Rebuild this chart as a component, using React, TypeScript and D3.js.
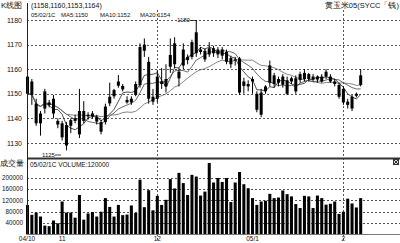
import React from "react";
import * as d3 from "d3";

const opens = [1157,1155,1146,1138,1144,1146.5,1148,1139,1138,1137.3,1137,1140,1133.5,1143,1141.5,1140.8,1140.7,1138.5,1138.5,1146.1,1149,1153.3,1153.2,1147.5,1146.5,1149.5,1153.5,1167.5,1163,1146.8,1148,1155,1153,1161,1162,1159,1161.5,1165,1165,1166.5,1168,1167.5,1166,1168.5,1166,1168,1167,1164.5,1163.5,1164.4,1153.2,1154,1155,1150,1141.5,1151,1154.5,1157.5,1154.5,1157,1155.5,1155,1156.3,1155.6,1158.5,1156,1157,1155.8,1157,1157,1157,1155,1153.6,1152,1146.8,1144,1149.2,1153.6];
const highs = [1158,1156,1148,1143,1152,1147.5,1149.5,1140,1139,1138.5,1140,1141.5,1152,1147,1142.5,1143,1141.5,1139.5,1146,1154.5,1152,1157.6,1154,1149,1149,1155,1170.5,1172.5,1165,1152,1159.5,1160.5,1162,1172.5,1173,1160.5,1170.5,1166,1172,1180,1169,1168.5,1171,1169.5,1169,1169,1168,1165.5,1165,1165,1156.5,1155.5,1157,1151,1152,1153.5,1163.5,1158.5,1157,1158,1157,1157,1157.5,1159,1160,1158.5,1158,1157.5,1158,1160,1158,1156,1154.5,1153,1148,1149.5,1150.5,1160];
const lows = [1148,1145.5,1137,1133,1142,1144.5,1140,1136,1131,1127,1134,1138,1132,1138,1139.5,1140,1137.5,1133.5,1137.5,1145,1148,1152.5,1151,1146,1145.5,1149,1152.5,1165,1146,1145.5,1146.5,1152,1150.5,1158.5,1160.5,1153,1160,1162,1164,1165,1166,1163,1165,1165,1164.5,1164,1162,1160.5,1161.5,1149.5,1150,1151,1150,1142.5,1140.5,1150,1153,1152.5,1153,1152.5,1149.5,1154,1150,1154.5,1155,1155,1155,1154.5,1154.5,1156,1154.5,1153,1148,1145.5,1144,1143,1148.5,1153];
const closes = [1150,1149.5,1138,1142,1151,1145.5,1142,1137.5,1132.3,1129,1139.3,1139,1143,1139,1140.8,1142,1138.7,1134.6,1144.8,1148.8,1151.5,1155,1151.8,1146.5,1148,1154,1169,1170,1148,1148.8,1157,1154,1156,1165.8,1170.5,1156.3,1168,1163.7,1171,1175,1167,1164,1168.5,1166.5,1168,1165.5,1163,1162,1164,1150.5,1155,1153,1156,1143.5,1150.5,1153,1161.5,1154,1156,1153.7,1150,1156.3,1151,1158,1156,1158,1155.8,1157,1155,1159,1155,1154,1148.8,1146.5,1145.5,1148.8,1150,1157.5];
const volumes = [104000,69000,77000,63000,31000,29000,49000,39000,116000,77000,77000,59000,139000,52000,74000,79000,63000,80000,128000,97000,63000,104000,68000,70000,102000,76000,193000,96000,156000,85000,136000,104000,122000,195000,162000,217000,181000,139000,210000,204000,137000,151000,252000,183000,199000,185000,199000,114000,183000,220000,177000,163000,128000,104000,116000,119000,143000,128000,130000,155000,142000,134000,107000,93000,136000,134000,93000,137000,128000,105000,108000,116000,72000,80000,126000,109000,95000,128000];

const priceTicks = [1180, 1170, 1160, 1150, 1140, 1130];
const volTicks = [200000, 160000, 120000, 80000, 40000];
const dateTickIdx = [0, 8, 30, 52, 73];
const dateTickText = ["04/10", "11", "12", "05/1", "2"];
const gridIdx = [30, 73];
const maPeriods = [5, 10, 20];
const headerItems = ["05/02/1C", "MA5:1150", "MA10:1152", "MA20:1154"];
const headerX = [31, 61, 100, 140];

const FONT = "'Liberation Sans', Arial, sans-serif";

export default function App() {
  const n = closes.length;
  const idx = d3.range(n);
  const xb = d3.scaleBand<number>().domain(idx).range([26, 362.2]).paddingInner(0.3).paddingOuter(0);
  const bw = xb.bandwidth();
  const cx = (i: number) => (xb(i) as number) + bw / 2;
  const y = d3.scaleLinear().domain([1130, 1180]).range([143, 20]);
  const yv = d3.scaleLinear().domain([0, 200000]).range([234.4, 177.7]);

  const ma = (p: number) =>
    closes.map((_, i) => d3.mean(closes.slice(Math.max(0, i - p + 1), i + 1)) as number);
  const line = d3.line<number>().x((_, i) => cx(i)).y((d) => y(d));
  const maColors = ["#222", "#444", "#666"];

  const dash = { stroke: "#555", strokeWidth: 1, strokeDasharray: "2,2", shapeRendering: "crispEdges" as const };

  return (
    <svg width={400} height={243} style={{ position: "absolute", left: 0, top: 0, background: "#fff" }} fontFamily={FONT}>
      <rect x={0} y={0} width={400} height={243} fill="#fff" />
      <text x={1} y={8} fontSize={8} fill="#111">K线图</text>
      <text x={31} y={8} fontSize={7} fill="#111">(1158,1160,1153,1164)</text>
      {headerItems.map((t, k) => (
        <text key={t} x={headerX[k]} y={17} fontSize={6} fill="#111">{t}</text>
      ))}
      <text x={399} y={8} fontSize={7.5} fill="#111" textAnchor="end">黄玉米05(SYCC「钱)</text>

      {priceTicks.map((t) => (
        <g key={t}>
          <line x1={27} x2={400} y1={Math.round(y(t)) + 0.5} y2={Math.round(y(t)) + 0.5} {...dash} />
          <text x={22} y={y(t) + 2.5} fontSize={7} textAnchor="end" fill="#111">{t}</text>
        </g>
      ))}
      {volTicks.map((t) => (
        <g key={t}>
          <line x1={27} x2={400} y1={Math.round(yv(t)) + 0.5} y2={Math.round(yv(t)) + 0.5} {...dash} />
          <text x={23} y={yv(t) + 2.3} fontSize={6.3} textAnchor="end" fill="#111">{t}</text>
        </g>
      ))}
      {gridIdx.map((i) => (
        <line key={i} x1={Math.round(cx(i)) + 0.5} x2={Math.round(cx(i)) + 0.5} y1={10} y2={240} {...dash} />
      ))}

      {maPeriods.map((p, k) => (
        <path key={p} d={line(ma(p)) || ""} fill="none" stroke={maColors[k]} strokeWidth={0.8} />
      ))}

      {idx.map((i) => {
        const o = opens[i], c = closes[i];
        const top = y(Math.max(o, c));
        const h = Math.max(1, Math.abs(y(o) - y(c)));
        return (
          <g key={i}>
            <line x1={cx(i)} x2={cx(i)} y1={y(highs[i])} y2={y(lows[i])} stroke="#000" strokeWidth={1} />
            <rect x={xb(i)} y={top} width={bw} height={h} fill="#000" />
          </g>
        );
      })}

      <text x={177} y={22} fontSize={6} fill="#111">1180</text>
      <line x1={190} x2={cx(39)} y1={20.5} y2={20.5} stroke="#111" strokeWidth={0.8} />
      <text x={42} y={157} fontSize={6} fill="#111">1125</text>
      <line x1={55} x2={61} y1={155} y2={155} stroke="#111" strokeWidth={0.8} />

      <line x1={27} x2={400} y1={158.5} y2={158.5} stroke="#333" strokeWidth={2} />
      <text x={0} y={166} fontSize={7.5} fill="#111">成交量</text>
      <text x={30} y={167} fontSize={6.5} fill="#111">05/02/1C VOLUME:120000</text>
      <g stroke="#333" strokeWidth={1}>
        <rect x={393.5} y={159.5} width={5} height={5} fill="#ddd" />
        <line x1={393.5} y1={159.5} x2={398.5} y2={164.5} />
        <line x1={398.5} y1={159.5} x2={393.5} y2={164.5} />
      </g>

      {idx.map((i) => (
        <rect key={i} x={xb(i)} y={yv(volumes[i])} width={bw} height={yv(0) - yv(volumes[i])} fill="#000" />
      ))}

      <line x1={27} x2={27} y1={3} y2={234.5} stroke="#222" strokeWidth={1} shapeRendering="crispEdges" />
      <line x1={27} x2={400} y1={234.5} y2={234.5} stroke="#777" strokeWidth={1} shapeRendering="crispEdges" />
      {dateTickIdx.map((i, k) => (
        <text key={i} x={k === 0 ? 27 : cx(i)} y={241} fontSize={6.5} textAnchor="middle" fill="#111">{dateTickText[k]}</text>
      ))}
    </svg>
  );
}
